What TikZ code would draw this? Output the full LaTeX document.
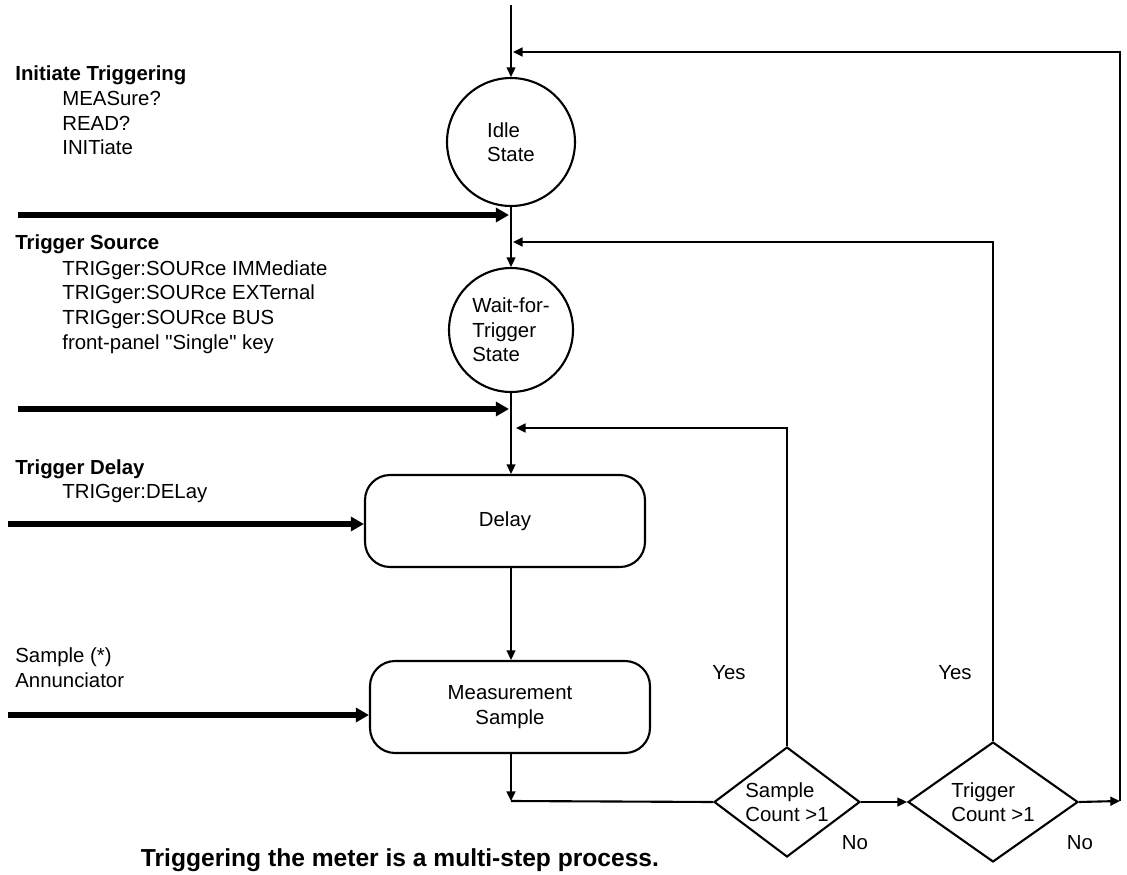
\documentclass[tikz,border=0pt]{standalone}
\usepackage{fontspec}
\setmainfont{Liberation Sans}[Ligatures=TeXOff]
\usepackage{tikz}
\usetikzlibrary{shapes.geometric, arrows.meta, positioning, calc}
\newcommand{\flowfont}{\fontsize{11.6pt}{13.95pt}\selectfont}
\tikzset{
  statecircle/.style={circle, draw, line width=1.2pt, inner sep=0pt,
    align=left, font=\flowfont},
  procbox/.style={rectangle, rounded corners=0.5cm, draw, line width=1.2pt,
    minimum width=5.6cm, minimum height=1.84cm, align=center, font=\flowfont},
  decision/.style={diamond, draw, line width=1.2pt, inner sep=0pt,
    align=left, font=\flowfont},
  flow/.style={-{Triangle[length=5.5pt, width=5pt]}, line width=1.2pt},
  flowline/.style={line width=1.2pt},
  fatarrow/.style={-{Triangle[length=7.5pt, width=8pt]}, line width=3.4pt},
  heading/.style={anchor=base west, inner sep=0pt, font=\flowfont\bfseries},
  cmdlist/.style={anchor=base west, inner sep=0pt, align=left, font=\flowfont},
  lbl/.style={inner sep=0pt, font=\flowfont},
}

\begin{document}
\begin{tikzpicture}[x=0.02cm, y=-0.02cm]
  \useasboundingbox (0,0) rectangle (1127,875);

  % states and steps
  \node[statecircle, minimum size=2.56cm] (idle) at (511,142) {Idle\\State};
  \node[statecircle, minimum size=2.48cm] (wait) at (511,330)
    {Wait-for-\\Trigger\\State};
  \node[procbox] (delay) at (505,521) {Delay};
  \node[procbox] (meas) at (510,707) {Measurement\\Sample};
  \node[decision, aspect=1.33, minimum width=2.92cm, minimum height=2.2cm]
    (sdiam) at (787,802) {Sample\\Count >1};
  \node[decision, aspect=1.4, minimum width=3.4cm, minimum height=2.4cm]
    (tdiam) at (993,802) {Trigger\\Count >1};

  % free ends and junctions
  \coordinate (start) at (511,5);
  \coordinate (jtop) at (513,52);
  \coordinate (jtrig) at (513,242);
  \coordinate (jsamp) at (516,428);
  \coordinate (jbot) at (511,801);
  \coordinate (tout) at (1120,801);
  \coordinate (initin) at (18,215);
  \coordinate (initj) at (509,215);
  \coordinate (srcin) at (18,409);
  \coordinate (srcj) at (509,409);
  \coordinate (delayin) at (8,524);
  \coordinate (samplein) at (8,715);

  % left-hand notes (lists are placed by their last line)
  \node[heading] (inithead) at (15,81) {Initiate Triggering};
  \node[cmdlist] (initcmds) at (62,155) {MEASure?\\READ?\\INITiate};
  \node[heading] (srchead) at (15,250) {Trigger Source};
  \node[cmdlist] (srccmds) at (62,349)
    {TRIGger:SOURce IMMediate\\TRIGger:SOURce EXTernal\\TRIGger:SOURce BUS\\front-panel "Single" key};
  \node[heading] (delayhead) at (15,474) {Trigger Delay};
  \node[cmdlist] (delaycmds) at (62,498) {TRIGger:DELay};
  \node[cmdlist] (annun) at (15,687) {Sample (*)\\Annunciator};

  % main flow
  \draw[flow] (start) -- (idle.north);
  \draw[flow] (idle.south) -- (wait.north);
  \draw[flow] (wait.south) -- (wait.south |- delay.north);
  \draw[flow] (delay.south -| wait.south) -- (wait.south |- meas.north);
  \draw[flow] (meas.south -| wait.south) -- (jbot);
  \draw[flowline] (jbot) -- (sdiam.west);
  \draw[flow] (sdiam.east) -- (tdiam.west);
  \draw[flow] (tdiam.east) -- (tout);
  \draw[flow] (tout) |- (jtop);
  \draw[flow] (sdiam.north) |- (jsamp);
  \draw[flow] (tdiam.north) |- (jtrig);

  % inputs
  \draw[fatarrow] (initin) -- (initj);
  \draw[fatarrow] (srcin) -- (srcj);
  \draw[fatarrow] (delayin) -- (delayin -| delay.west);
  \draw[fatarrow] (samplein) -- (samplein -| meas.west);

  \node[lbl] (syes) at (729,673) {Yes};
  \node[lbl] (tyes) at (955,673) {Yes};
  \node[lbl] (sno) at (855,843) {No};
  \node[lbl] (tno) at (1080,843) {No};

  \node[inner sep=0pt, font=\fontsize{14pt}{17pt}\selectfont\bfseries]
    (caption) at (400,860) {Triggering the meter is a multi-step process.};
\end{tikzpicture}
\end{document}
